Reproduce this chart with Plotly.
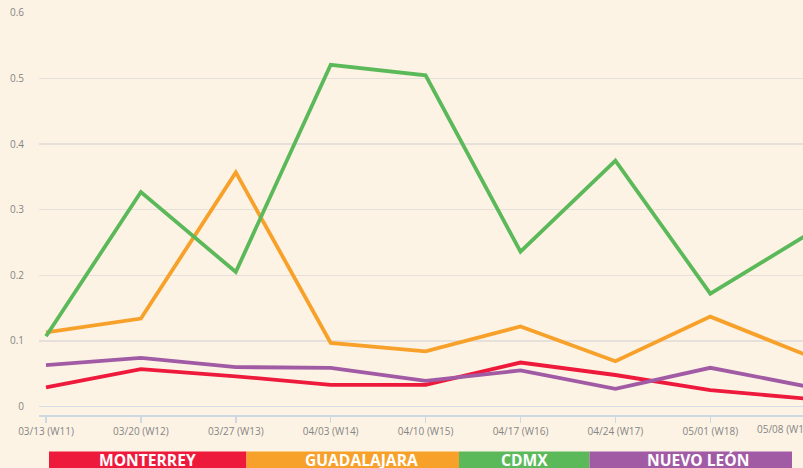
import plotly.graph_objects as go

weeks = ["03/13 (W11)", "03/20 (W12)", "03/27 (W13)", "04/03 (W14)", "04/10 (W15)",
         "04/17 (W16)", "04/24 (W17)", "05/01 (W18)", "05/08 (W19)"]
monterrey = [0.029, 0.057, 0.046, 0.033, 0.033, 0.067, 0.048, 0.025, 0.012]
guadalajara = [0.113, 0.134, 0.357, 0.097, 0.084, 0.122, 0.069, 0.137, 0.079]
cdmx = [0.107, 0.327, 0.205, 0.521, 0.505, 0.236, 0.375, 0.172, 0.260]
nuevo_leon = [0.063, 0.074, 0.060, 0.059, 0.039, 0.055, 0.027, 0.059, 0.031]
y_ticks = [0, 0.1, 0.2, 0.3, 0.4, 0.5, 0.6]

series_names = ["MONTERREY", "GUADALAJARA", "CDMX", "NUEVO LEÓN"]
series_values = [monterrey, guadalajara, cdmx, nuevo_leon]
colors = ["#EE1A3C", "#F7A12A", "#5BB95A", "#A15BA5"]

W, H = 803, 468
L, R, T, B = 39, 0, 12, 53
pw = W - L - R
ph = H - T - B

def px_to_paper_x(px):
    return (px - L) / pw

def px_to_paper_y(py):
    return (H - B - py) / ph

x_idx = list(range(len(weeks)))

fig = go.Figure()
for name, vals, col in zip(series_names, series_values, colors):
    fig.add_trace(go.Scatter(x=x_idx, y=vals, mode="lines", name=name,
                             line=dict(color=col, width=3.8), hoverinfo="skip"))

# legend boxes
box_edges = [49, 246.5, 459, 589.5, 792]
label_centers = [147, 361, 524.3, 698]
shapes = []
annotations = []
for i, (name, col) in enumerate(zip(series_names, colors)):
    x0 = px_to_paper_x(box_edges[i])
    x1 = px_to_paper_x(box_edges[i + 1])
    shapes.append(dict(type="rect", xref="paper", yref="paper",
                       x0=x0, x1=x1, y0=px_to_paper_y(451.5), y1=px_to_paper_y(490),
                       fillcolor=col, line=dict(width=0), layer="above"))
    annotations.append(dict(text="<b>" + name + "</b>", xref="paper", yref="paper",
                            x=px_to_paper_x(label_centers[i]), y=px_to_paper_y(460),
                            xanchor="center", yanchor="middle", showarrow=False,
                            font=dict(family="Open Sans", size=15.6, color="white")))

# last tick label (tick itself lies just beyond visible area)
annotations.append(dict(text=weeks[-1], xref="paper", yref="paper",
                        x=px_to_paper_x(755), y=px_to_paper_y(428.5),
                        xanchor="left", yanchor="middle", showarrow=False,
                        font=dict(family="Open Sans", size=10, color="#858585")))

x_left = -7 / 94.9
x_right = (W - 46) / 94.9

fig.update_layout(
    width=W, height=H,
    margin=dict(l=L, r=R, t=T, b=B, pad=0),
    paper_bgcolor="#FDF3E4", plot_bgcolor="#FDF3E4",
    showlegend=False,
    shapes=shapes, annotations=annotations,
    font=dict(family="Open Sans", size=10, color="#858585"),
    xaxis=dict(range=[x_left, x_right], tickmode="array", tickvals=x_idx[:-1],
               ticktext=weeks[:-1], showgrid=False, zeroline=False,
               showline=True, linecolor="#cdd8e3", linewidth=1.5,
               ticks="outside", ticklen=6, tickcolor="#cdd8e3", tickwidth=1.5,
               tickfont=dict(family="Open Sans", size=10, color="#858585")),
    yaxis=dict(range=[-0.013, 0.6015], tickmode="array", tickvals=y_ticks,
               ticktext=[str(v) if v != 0 else "0" for v in y_ticks],
               showgrid=True, gridcolor="#e5e0da", gridwidth=1.5,
               zeroline=True, zerolinecolor="#d6dce4", zerolinewidth=1.5,
               showline=False, ticks="", ticklabelstandoff=14,
               tickfont=dict(family="Open Sans", size=10, color="#858585")),
)

fig.write_html("out.html",
               config={"displayModeBar": False, "staticPlot": True},
               post_script="document.body.style.margin='0px';"
                           "document.body.style.overflow='hidden';"
                           "document.body.style.background='#FDF3E4';")
